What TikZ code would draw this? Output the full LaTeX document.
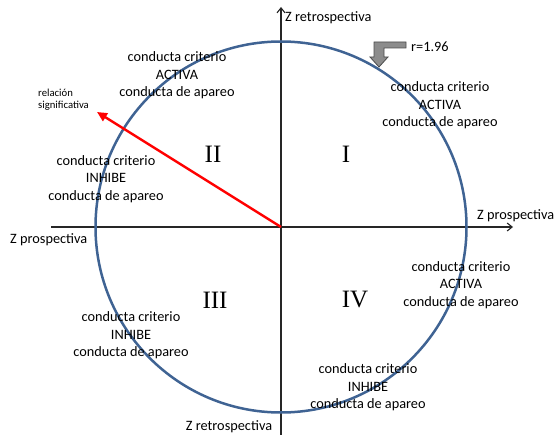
\documentclass[tikz,border=0pt]{standalone}
\usepackage{fontspec}
\setmainfont{Carlito}
\newfontfamily\romanfont{Liberation Serif}
\usetikzlibrary{arrows.meta}
\definecolor{circblue}{HTML}{3F6393}
\definecolor{markgray}{HTML}{8C8C8C}
\tikzset{
  lbl/.style={align=center, font=\fontsize{14.3}{17.5}\selectfont, inner sep=0pt},
  axlbl/.style={font=\fontsize{14.3}{17.5}\selectfont, inner sep=0pt},
  quad/.style={font=\romanfont\fontsize{25}{25}\selectfont, inner sep=0pt},
  axis/.style={line width=1.1pt, black!85, -{Straight Barb[length=5pt,width=8pt]}}
}
\begin{document}
\begin{tikzpicture}[x=1pt,y=-1pt]
\useasboundingbox (0,0) rectangle (556,435);
\coordinate (O) at (281,227);
\coordinate (hL) at (51,227);
\coordinate (hR) at (513,227);
\coordinate (vB) at (281,435);
\coordinate (vT) at (281,7);
\draw[axis] (hL) -- (hR);
\draw[axis] (vB) -- (vT);
\draw[circblue, line width=2.5pt] (O) circle (185.5);
\coordinate (rel) at (97,112);
\draw[red, line width=2.4pt, -{Triangle[length=10pt,width=9pt]}] (O) -- (rel);
% marker
\draw[fill=markgray, draw=black!70, line width=0.8pt]
  (406,42) -- (374,42) -- (374,57) -- (370,57) -- (379,67) -- (388,57) -- (384,57) -- (384,48) -- (406,48) -- cycle;
\node[axlbl, anchor=west] (r) at (411,47) {r=1.96};
% axis labels
\node[axlbl, anchor=west] (zrt) at (285,18) {Z retrospectiva};
\node[axlbl, anchor=west] (zpr) at (477,216) {Z prospectiva};
\node[axlbl, anchor=west] (zpl) at (10,240) {Z prospectiva};
\node[axlbl] (zrb) at (229,427) {Z retrospectiva};
\node[align=left, font=\fontsize{10.7}{12}\selectfont, inner sep=0pt, anchor=west] (rs) at (38,100) {relación\\significativa};
% quadrants
\node[quad] (q2) at (213,154) {II};
\node[quad] (q1) at (346,154) {I};
\node[quad] (q3) at (215,300) {III};
\node[quad] (q4) at (355,300) {IV};
% texts
\node[lbl] (t1) at (177,75.5) {conducta criterio\\ACTIVA\\conducta de apareo};
\node[lbl] (t2) at (440,105.5) {conducta criterio\\ACTIVA\\conducta de apareo};
\node[lbl] (t3) at (106,179) {conducta criterio\\INHIBE\\conducta de apareo};
\node[lbl] (t4) at (461,285) {conducta criterio\\ACTIVA\\conducta de apareo};
\node[lbl] (t5) at (131,335.5) {conducta criterio\\INHIBE\\conducta de apareo};
\node[lbl] (t6) at (368,387.5) {conducta criterio\\INHIBE\\conducta de apareo};
\end{tikzpicture}
\end{document}
